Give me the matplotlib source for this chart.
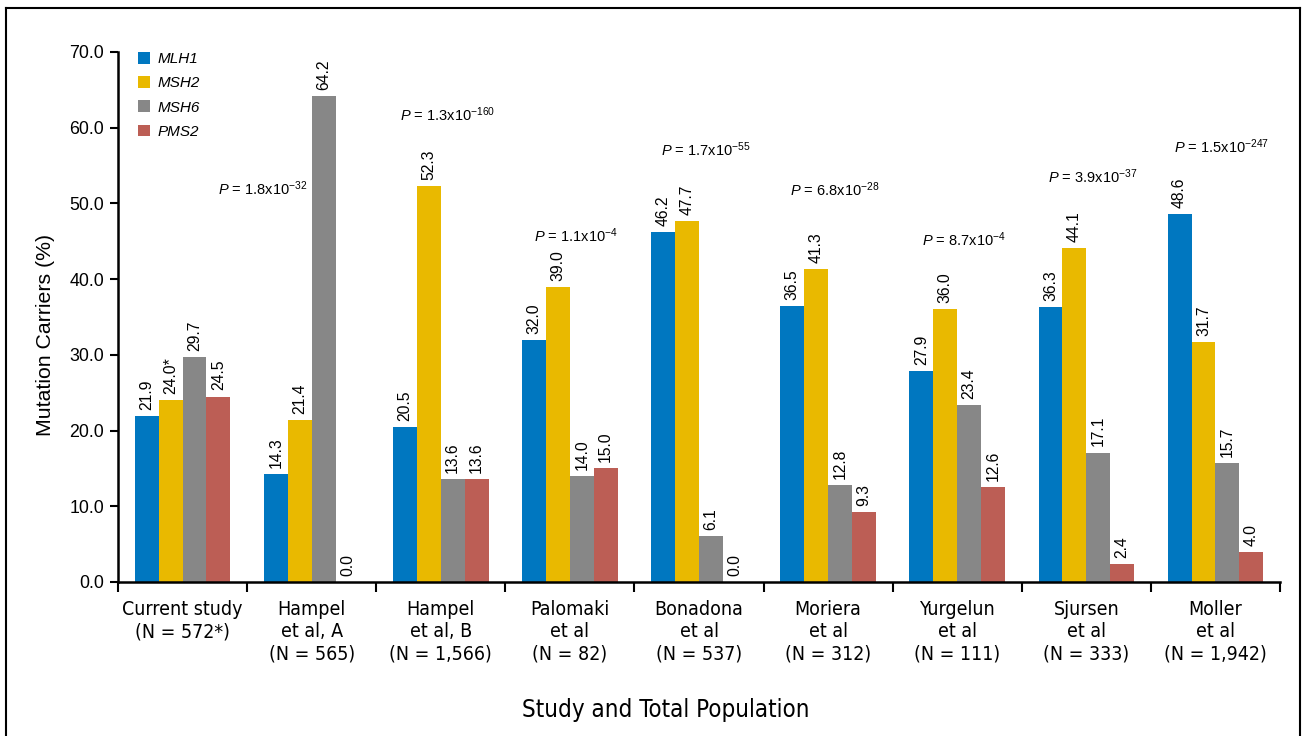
import matplotlib
matplotlib.use("Agg")
import matplotlib.pyplot as plt
from matplotlib.lines import Line2D
import numpy as np

studies = ["Current study\n(N = 572*)", "Hampel\net al, A\n(N = 565)", "Hampel\net al, B\n(N = 1,566)",
           "Palomaki\net al\n(N = 82)", "Bonadona\net al\n(N = 537)", "Moriera\net al\n(N = 312)",
           "Yurgelun\net al\n(N = 111)", "Sjursen\net al\n(N = 333)", "Moller\net al\n(N = 1,942)"]
genes = ["MLH1", "MSH2", "MSH6", "PMS2"]
mlh1 = [21.9, 14.3, 20.5, 32.0, 46.2, 36.5, 27.9, 36.3, 48.6]
msh2 = [24.0, 21.4, 52.3, 39.0, 47.7, 41.3, 36.0, 44.1, 31.7]
msh6 = [29.7, 64.2, 13.6, 14.0, 6.1, 12.8, 23.4, 17.1, 15.7]
pms2 = [24.5, 0.0, 13.6, 15.0, 0.0, 9.3, 12.6, 2.4, 4.0]
p_mantissa = [None, "1.8", "1.3", "1.1", "1.7", "6.8", "8.7", "3.9", "1.5"]
p_exponent = [None, "-32", "-160", "-4", "-55", "-28", "-4", "-37", "-247"]
p_ypos = [None, 51.9, 61.7, 45.7, 57.1, 51.8, 45.2, 53.5, 57.5]
yticks = [0, 10, 20, 30, 40, 50, 60, 70]

colors = ["#0077C0", "#E9B900", "#878787", "#BC5E55"]

plt.rcParams['font.family'] = ['Liberation Sans', 'DejaVu Sans']
plt.rcParams['mathtext.fontset'] = 'custom'
plt.rcParams['mathtext.rm'] = 'Liberation Sans'
plt.rcParams['mathtext.it'] = 'Liberation Sans:italic'

cond = dict(family='DejaVu Sans', stretch='condensed')

fw, fh = 1306, 736
fig = plt.figure(figsize=(fw / 100, fh / 100), dpi=100)
ax = fig.add_axes([118/fw, 1-582/fh, (1280-118)/fw, (582-52)/fh])

series = [mlh1, msh2, msh6, pms2]
x = np.arange(len(studies))
w = 0.185
for i, (vals, c) in enumerate(zip(series, colors)):
    pos = x + (i - 1.5) * w
    ax.bar(pos, vals, width=w, color=c, label=genes[i], zorder=2)
    for j, (px, v) in enumerate(zip(pos, vals)):
        lab = f"{v:.1f}"
        if i == 1 and j == 0:
            lab += "*"
        ax.text(px, v + 0.8, lab, rotation=90, ha='center', va='bottom', fontsize=11.3)

# P-value annotations
for j in range(len(studies)):
    if p_mantissa[j] is None:
        continue
    s = r"$\mathit{P}$ = " + p_mantissa[j] + r"x10$^{" + p_exponent[j] + "}$"
    if j == 1:
        ax.text(x[j] - 0.03, p_ypos[j], s, ha='right', va='center', fontsize=10.5)
    else:
        ax.text(x[j] + 0.05, p_ypos[j], s, ha='center', va='center', fontsize=10.5)

ax.set_xlim(-0.5, len(studies) - 0.5)
ax.set_ylim(0, 70)
ax.set_yticks(yticks)
ax.set_yticklabels([f"{t:.1f}" for t in yticks], fontsize=12.8)
ax.set_xticks(x)
ax.set_xticklabels(studies, fontsize=14, linespacing=1.22, **cond)
ax.tick_params(axis='x', length=0, pad=13)
ax.set_xticks(np.arange(-0.5, len(studies)), minor=True)
ax.tick_params(axis='x', which='minor', length=7, width=1.5, direction='out')
ax.tick_params(axis='y', length=6, width=1.5, direction='out', pad=4)
for s in ['top', 'right']:
    ax.spines[s].set_visible(False)
for s in ['left', 'bottom']:
    ax.spines[s].set_linewidth(1.8)

ax.set_ylabel("Mutation Carriers (%)", fontsize=15.3)
ax.yaxis.set_label_coords(-63/(1280-118), (582-335)/530)
ax.set_xlabel("Study and Total Population", fontsize=17.3, **cond)
ax.xaxis.set_label_coords((666-118)/(1280-118), -(710-582)/530)
ax.xaxis.label.set_va('center')

leg = ax.legend(loc='upper left', bbox_to_anchor=(0.005, 1.026), frameon=False, prop={'style': 'italic', 'size': 11},
                handlelength=0.8, handleheight=0.8, handletextpad=0.5, labelspacing=0.66)

# outer frame
for xs, ys in [([6/fw, 6/fw], [0, 1-8/fh]), ([6/fw, 1300/fw], [1-8/fh, 1-8/fh]), ([1300/fw, 1300/fw], [0, 1-8/fh])]:
    fig.add_artist(Line2D(xs, ys, color='black', lw=1.5))

fig.savefig("out.png", dpi=100)
